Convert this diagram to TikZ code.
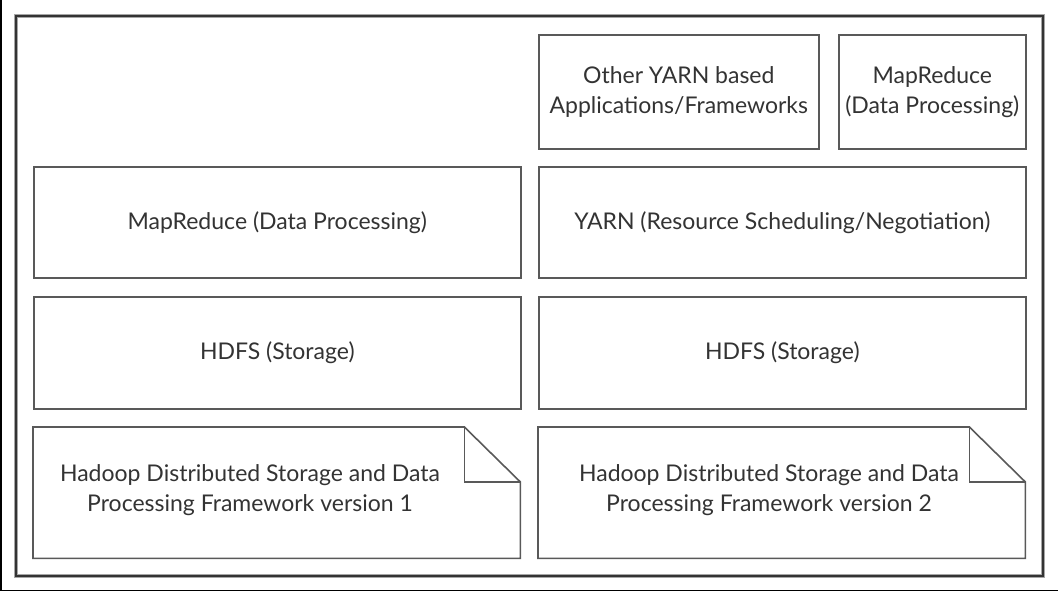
\documentclass[tikz,border=0pt]{standalone}
\usepackage{fontspec}
\setmainfont{Lato}
\begin{document}
\begin{tikzpicture}[x=1pt,y=-1pt,
  box/.style={draw=black!65, line width=1.6pt, fill=white, anchor=north west, inner sep=0pt,
    text=black!80, align=center, font=\fontsize{23}{30}\selectfont},
  plain/.style={text=black!80, align=center, font=\fontsize{23}{30}\selectfont, inner sep=0pt},
  frame/.style={draw=black!80, line width=2pt},
  shadow/.style={draw=black!35, line width=3.2pt}]
\useasboundingbox (0,0) rectangle (1058,591);
\draw[line width=1.5pt] (0.75,0) -- (0.75,590.25) -- (1058,590.25);
% outer frame
\draw[shadow] (16,16) rectangle (1043,576);
\draw[frame] (16,16) rectangle (1043,576);
% row 1
\node[box, minimum width=280pt, minimum height=114pt] (other) at (538,34) {Other YARN based\\Applications/Frameworks};
\node[box, minimum width=187pt, minimum height=114pt] (mr2) at (838,34) {MapReduce\\(Data Processing)};
% row 2
\node[box, minimum width=487pt, minimum height=111pt] (mr1) at (33,166) {MapReduce (Data Processing)};
\node[box, minimum width=487pt, minimum height=111pt] (yarn) at (538,166) {YARN (Resource Scheduling/Negotiation)};
% row 3
\node[box, minimum width=487pt, minimum height=112pt] (hdfs1) at (33,296) {HDFS (Storage)};
\node[box, minimum width=487pt, minimum height=112pt] (hdfs2) at (538,296) {HDFS (Storage)};
% row 4 notes
\node[anchor=north west, minimum width=487pt, minimum height=131pt, inner sep=0pt] (v1) at (33,427) {};
\node[anchor=north west, minimum width=487pt, minimum height=131pt, inner sep=0pt] (v2) at (538,427) {};
\foreach \n in {v1,v2}{
  \draw[draw=black!65, line width=1.6pt, line join=miter]
    (\n.north west) -- ([xshift=-56pt]\n.north east) -- ([yshift=-55pt]\n.north east)
    -- (\n.south east) -- (\n.south west) -- cycle;
  \draw[draw=black!65, line width=1.6pt, line join=miter]
    ([xshift=-56pt]\n.north east) -- ([xshift=-56pt,yshift=-55pt]\n.north east) -- ([yshift=-55pt]\n.north east);
}
\node[plain] (t1) at (250,490) {Hadoop Distributed Storage and Data\\Processing Framework version 1};
\node[plain] (t2) at (769,490) {Hadoop Distributed Storage and Data\\Processing Framework version 2};
\end{tikzpicture}
\end{document}
